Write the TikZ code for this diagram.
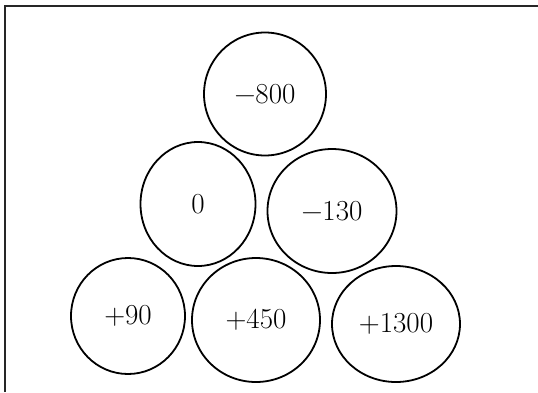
\documentclass[tikz,border=0pt]{standalone}
\usepackage{fontspec}
\usetikzlibrary{shapes.geometric}
\begin{document}
\begin{tikzpicture}[x=1pt,y=-1pt,
  ball/.style={draw, ellipse, line width=1.8pt, inner sep=0pt,
    font=\fontsize{29}{31}\selectfont},
  frame/.style={line width=2pt, draw=black!85}]
\useasboundingbox (0,0) rectangle (538,392);
\coordinate (fa) at (5,392);
\coordinate (fb) at (5,6);
\coordinate (fc) at (538,6);
\draw[frame] (fa) -- (fb) -- (fc);
\node[ball, minimum width=122pt, minimum height=123pt] (n800) at (265,94) {−800};
\node[ball, minimum width=115pt, minimum height=124pt] (n0) at (198,204) {0};
\node[ball, minimum width=129pt, minimum height=124pt] (n130) at (332,211) {−130};
\node[ball, minimum width=114pt, minimum height=116pt] (n90) at (128,316) {+90};
\node[ball, minimum width=128pt, minimum height=124pt] (n450) at (256,320) {+450};
\node[ball, minimum width=128pt, minimum height=116pt] (n1300) at (396,324) {+1300};
\end{tikzpicture}
\end{document}
